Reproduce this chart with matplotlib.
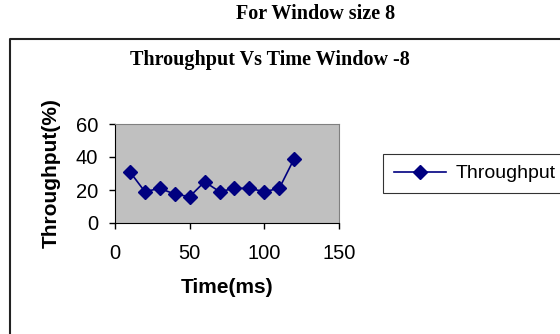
import matplotlib.pyplot as plt
from matplotlib.lines import Line2D

# data
time_ms = [10, 20, 30, 40, 50, 60, 70, 80, 90, 100, 110, 120]
throughput = [31, 19, 21, 17.5, 16, 25, 19, 21, 21, 19, 21, 39]
x_ticks = [0, 50, 100, 150]
y_ticks = [0, 20, 40, 60]

W, H = 560, 334
fig = plt.figure(figsize=(W / 100, H / 100), dpi=100)
fig.patch.set_facecolor('white')

# outer chart-area border (only left and top are visible in the crop)
fig.add_artist(Line2D([10 / W, 10 / W, 1.0], [0.0, 1 - 39 / H, 1 - 39 / H],
                      transform=fig.transFigure, color='#222222', lw=1.5))

fig.text(316 / W, 1 - 14 / H, 'For Window size 8', ha='center', va='center',
         family='Liberation Serif', weight='bold', fontsize=14.5)
fig.text(270 / W, 1 - 60 / H, 'Throughput Vs Time Window -8', ha='center', va='center',
         family='Liberation Serif', weight='bold', fontsize=14.5)

ax = fig.add_axes([115 / W, 1 - 223 / H, (339 - 115) / W, (223 - 124) / H])
ax.set_facecolor('#C0C0C0')
ax.plot(time_ms, throughput, color='#000080', lw=1.2, marker='D', markersize=7,
        markerfacecolor='#000080', markeredgecolor='#000080', label='Throughput')

ax.set_xlim(0, 150)
ax.set_ylim(0, 60)
ax.set_xticks(x_ticks)
ax.set_yticks(y_ticks)
for side in ['top', 'right']:
    ax.spines[side].set_color('#808080')
for side in ['left', 'bottom']:
    ax.spines[side].set_color('black')
ax.tick_params(direction='out', length=4, width=1, labelsize=14.5)
for lbl in ax.get_xticklabels() + ax.get_yticklabels():
    lbl.set_family('Liberation Sans')
ax.tick_params(axis='x', pad=11)
ax.tick_params(axis='y', pad=8)

ax.set_xlabel('Time(ms)', family='Liberation Sans', weight='bold', fontsize=15, labelpad=11)
ax.set_ylabel('Throughput(%)', family='Liberation Sans', weight='bold', fontsize=15, labelpad=11)

leg = ax.legend(loc='upper left', bbox_to_anchor=(383 / W, 1 - 154 / H),
                bbox_transform=fig.transFigure, frameon=True, fancybox=False,
                handlelength=2.7, handletextpad=0.5, borderpad=0.55, borderaxespad=0,
                prop={'family': 'Liberation Sans', 'size': 14})
leg.get_frame().set_edgecolor('black')
leg.get_frame().set_linewidth(0.8)

fig.savefig('out.png', dpi=100)
